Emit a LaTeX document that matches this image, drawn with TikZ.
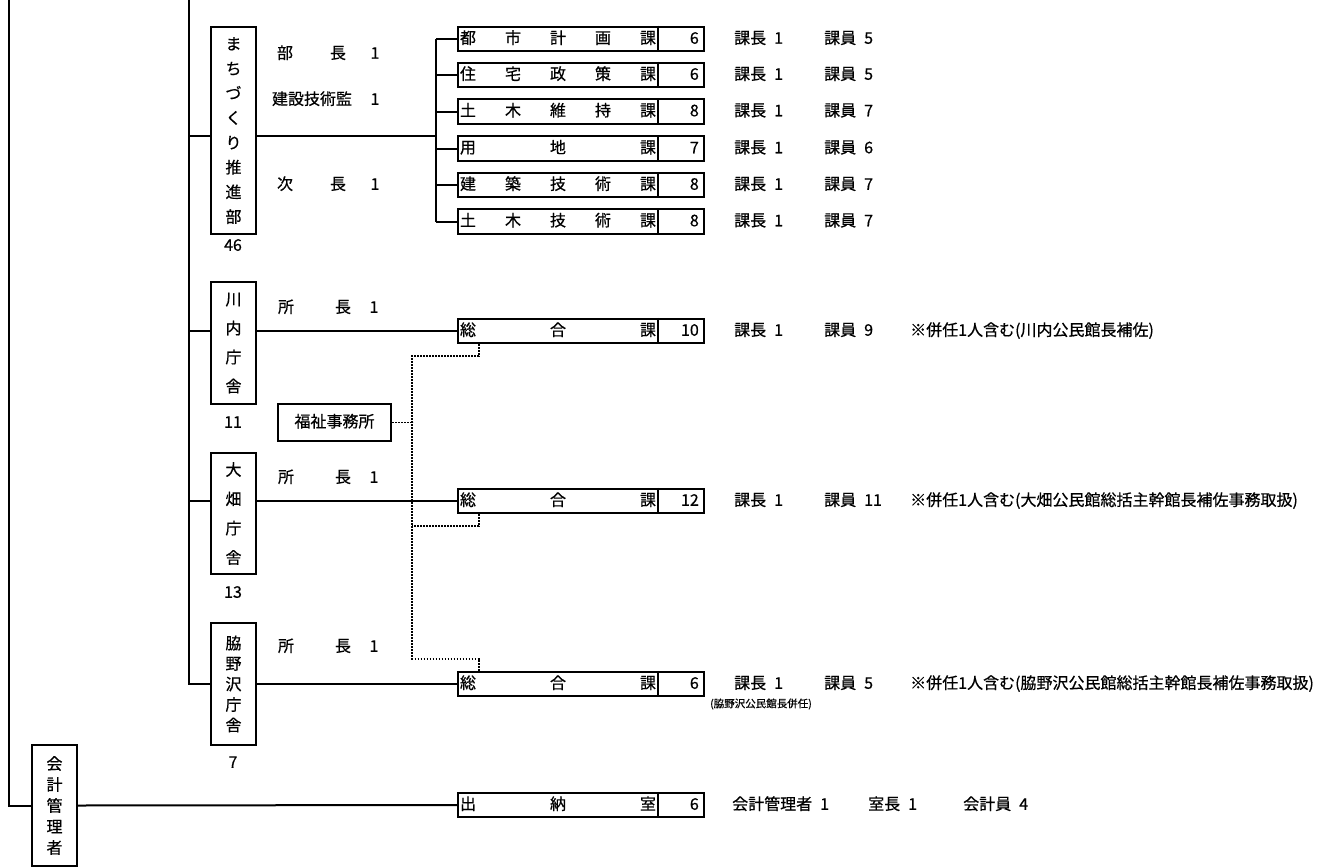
\documentclass[tikz,border=0pt]{standalone}
\usepackage{fontspec}
\setmainfont{Noto Sans CJK JP}[FakeBold=0.6]
\usetikzlibrary{calc}
\newcommand\mysec[4]{%
  \node[sbox] (#1) at (581,#2) {};
  \draw[ln] ([xshift=201pt]#1.north west) -- ([xshift=201pt]#1.south west);
  \foreach \xx/\cc in {#3}{\node[txt] (#1c\xx) at (\xx,#2) {\cc};}
  \node[txt, anchor=east] (#1n) at (699,#2) {#4};
}
\newcommand\myrt[3]{\node[txt, anchor=west] (#1) at (#2) {#3};}
\newcommand\mygap{\enspace}
\begin{document}
\begin{tikzpicture}[x=1pt,y=-1pt,
  ln/.style={line width=2pt},
  dl/.style={line width=1.8pt, dash pattern=on 1.6pt off 1.4pt},
  box/.style={draw, line width=2pt, inner sep=0pt},
  vbox/.style={box, minimum width=45pt, align=center},
  sbox/.style={box, minimum width=246pt, minimum height=24.5pt},
  txt/.style={inner sep=0pt, font=\fontsize{16}{18}\selectfont, text height=12pt, text depth=2.5pt},
  small/.style={inner sep=0pt, font=\fontsize{10.5}{12}\selectfont}]
\useasboundingbox (0,0) rectangle (1319,867);

% vertical boxes
\node[vbox, minimum height=207pt, font=\fontsize{16}{24.7}\selectfont] (machi) at (233.5,130.5) {ま\\ち\\づ\\く\\り\\推\\進\\部};
\node[vbox, minimum height=122pt, font=\fontsize{16}{29}\selectfont] (kawa) at (233.5,343) {川\\内\\庁\\舎};
\node[vbox, minimum height=121pt, font=\fontsize{16}{29.3}\selectfont] (oha) at (233.5,513.5) {大\\畑\\庁\\舎};
\node[vbox, minimum height=122pt, font=\fontsize{16}{20.5}\selectfont] (waki) at (233.5,684) {脇\\野\\沢\\庁\\舎};
\node[vbox, minimum height=121pt, font=\fontsize{16}{21}\selectfont] (kaikei) at (54.5,805.5) {会\\計\\管\\理\\者};
\node[box, txt, minimum width=113pt, minimum height=37pt] (fuku) at (334.5,422.5) {福祉事務所};

% counts
\node[txt] (n46) at (233,246) {46};
\node[txt] (n11) at (233,423) {11};
\node[txt] (n13) at (233,593) {13};
\node[txt] (n7) at (233,763) {7};

% officers
\node[txt] (p1a) at (285,54) {部};
\node[txt] (p1b) at (338,54) {長};
\node[txt] (p1c) at (375,54) {1};
\node[txt] (p2a) at (312,100) {建設技術監};
\node[txt] (p2c) at (375,100) {1};
\node[txt] (p3a) at (285,185) {次};
\node[txt] (p3b) at (338,185) {長};
\node[txt] (p3c) at (375,185) {1};
\foreach \yy/\nm in {308/k,478/o,647/w}{
  \node[txt] (\nm sa) at (286,\yy) {所};
  \node[txt] (\nm sb) at (343,\yy) {長};
  \node[txt] (\nm sc) at (374,\yy) {1};
}

% sections
\mysec{r1}{39}{468/都,513/市,558/計,603/画,648/課}{6}
\mysec{r2}{75}{468/住,513/宅,558/政,603/策,648/課}{6}
\mysec{r3}{111.5}{468/土,513/木,558/維,603/持,648/課}{8}
\mysec{r4}{148.5}{468/用,558/地,648/課}{7}
\mysec{r5}{185}{468/建,513/築,558/技,603/術,648/課}{8}
\mysec{r6}{221.5}{468/土,513/木,558/技,603/術,648/課}{8}
\mysec{s1}{331}{468/総,558/合,648/課}{10}
\mysec{s2}{501}{468/総,558/合,648/課}{12}
\mysec{s3}{684}{468/総,558/合,648/課}{6}
\mysec{s4}{805}{468/出,558/納,648/室}{6}

% right texts
\myrt{t1a}{734,39}{課長\mygap 1}\myrt{t1b}{824,39}{課員\mygap 5}
\myrt{t2a}{734,75}{課長\mygap 1}\myrt{t2b}{824,75}{課員\mygap 5}
\myrt{t3a}{734,111.5}{課長\mygap 1}\myrt{t3b}{824,111.5}{課員\mygap 7}
\myrt{t4a}{734,148.5}{課長\mygap 1}\myrt{t4b}{824,148.5}{課員\mygap 6}
\myrt{t5a}{734,185}{課長\mygap 1}\myrt{t5b}{824,185}{課員\mygap 7}
\myrt{t6a}{734,221.5}{課長\mygap 1}\myrt{t6b}{824,221.5}{課員\mygap 7}
\myrt{u1a}{734,331}{課長\mygap 1}\myrt{u1b}{824,331}{課員\mygap 9}
\myrt{u1c}{910,331}{※併任1人含む(川内公民館長補佐)}
\myrt{u2a}{734,501}{課長\mygap 1}\myrt{u2b}{824,501}{課員\mygap 11}
\myrt{u2c}{910,501}{※併任1人含む(大畑公民館総括主幹館長補佐事務取扱)}
\myrt{u3a}{734,684}{課長\mygap 1}\myrt{u3b}{824,684}{課員\mygap 5}
\myrt{u3c}{910,684}{※併任1人含む(脇野沢公民館総括主幹館長補佐事務取扱)}
\node[small, anchor=west] (u3d) at (710,704) {(脇野沢公民館長併任)};
\myrt{v1a}{732,805}{会計管理者\mygap 1}\myrt{v1b}{868,805}{室長\mygap 1}\myrt{v1c}{963,805}{会計員\mygap 4}

% connectors
\coordinate (tl) at (9,0);
\coordinate (tm) at (189,0);
\coordinate (mj) at (436,136);
\coordinate (dx) at (413,0);
\draw[ln] (tl) |- (kaikei.west);
\draw[ln] (tm) |- (waki.west);
\draw[ln] (tm |- mj) -- (mj -| machi.west);
\draw[ln] (mj -| machi.east) -- (mj);
\draw[ln] (mj |- r1.west) -- (mj |- r6.west);
\foreach \r in {r1,r2,r3,r4,r5,r6}{\draw[ln] (mj |- \r.west) -- (\r.west);}
\draw[ln] (tm |- s1.west) -- (s1.west -| kawa.west);
\draw[ln] (s1.west -| kawa.east) -- (s1.west);
\draw[ln] (tm |- s2.west) -- (s2.west -| oha.west);
\draw[ln] (s2.west -| oha.east) -- (s2.west);
\draw[ln] (waki.east) -- (s3.west);
\draw[ln] (kaikei.east) -- (s4.west);

% dotted links
\coordinate (a1) at ([xshift=22pt]s1.south west);
\coordinate (a2) at ([xshift=22pt]s2.south west);
\coordinate (a3) at ([xshift=22pt]s3.north west);
\draw[dl] (a1) -- ++(0,12) -| ($(a3)+(-67,-12)$) -- ++(67,0) -- (a3);
\draw[dl] (a2) -- ++(0,12) -- ++(-67,0);
\draw[dl] (fuku.east) -- (fuku.east -| dx);
\end{tikzpicture}
\end{document}
